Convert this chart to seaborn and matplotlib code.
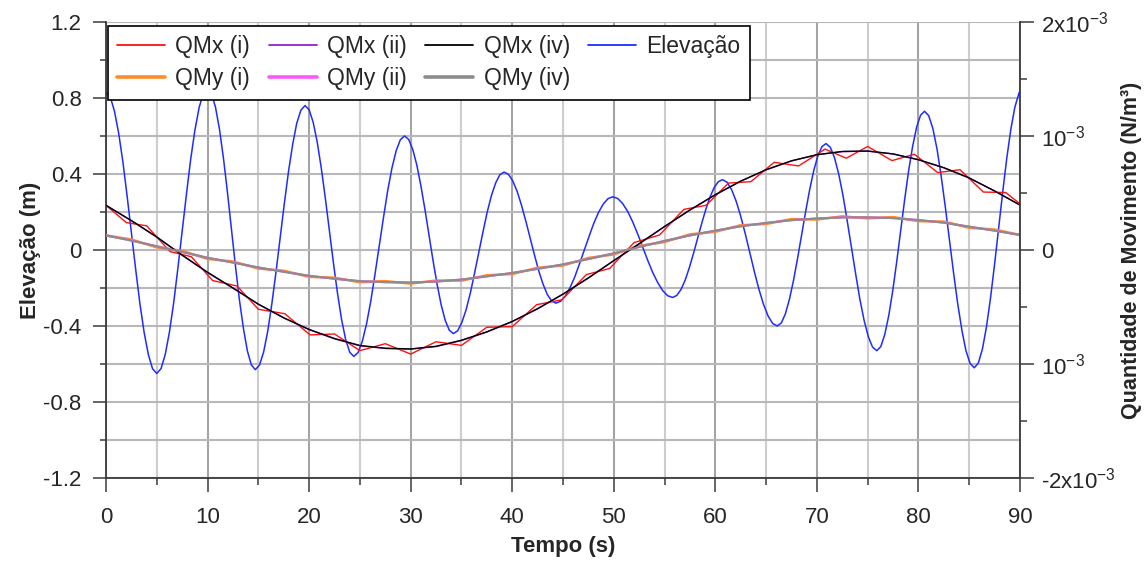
import matplotlib
matplotlib.use("Agg")
import matplotlib.pyplot as plt
import seaborn as sns
import pandas as pd
from matplotlib.ticker import MultipleLocator, FixedLocator, FixedFormatter
from matplotlib.lines import Line2D

# ---------------- data ----------------
# Elevação (m), left axis
t_elev = [0,
          0.42, 0.83, 1.25, 1.67, 2.08, 2.5, 2.92, 3.33, 3.75, 4.17, 4.58, 5.0,
          5.42, 5.83, 6.25, 6.67, 7.08, 7.5, 7.92, 8.33, 8.75, 9.17, 9.58, 10.0,
          10.39, 10.78, 11.18, 11.57, 11.96, 12.35, 12.74, 13.13, 13.53, 13.92, 14.31, 14.7,
          15.11, 15.52, 15.93, 16.33, 16.74, 17.15, 17.56, 17.97, 18.38, 18.78, 19.19, 19.6,
          20.0, 20.4, 20.8, 21.2, 21.6, 22.0, 22.4, 22.8, 23.2, 23.6, 24.0, 24.4,
          24.82, 25.23, 25.65, 26.07, 26.48, 26.9, 27.32, 27.73, 28.15, 28.57, 28.98, 29.4,
          29.8, 30.2, 30.6, 31.0, 31.4, 31.8, 32.2, 32.6, 33.0, 33.4, 33.8, 34.2,
          34.62, 35.03, 35.45, 35.87, 36.28, 36.7, 37.12, 37.53, 37.95, 38.37, 38.78, 39.2,
          39.63, 40.05, 40.48, 40.9, 41.33, 41.75, 42.18, 42.6, 43.03, 43.45, 43.88, 44.3,
          44.77, 45.23, 45.7, 46.17, 46.63, 47.1, 47.57, 48.03, 48.5, 48.97, 49.43, 49.9,
          50.39, 50.88, 51.38, 51.87, 52.36, 52.85, 53.34, 53.83, 54.33, 54.82, 55.31, 55.8,
          56.21, 56.62, 57.03, 57.43, 57.84, 58.25, 58.66, 59.07, 59.48, 59.88, 60.29, 60.7,
          61.15, 61.6, 62.05, 62.5, 62.95, 63.4, 63.85, 64.3, 64.75, 65.2, 65.65, 66.1,
          66.5, 66.9, 67.3, 67.7, 68.1, 68.5, 68.9, 69.3, 69.7, 70.1, 70.5, 70.9,
          71.32, 71.73, 72.15, 72.57, 72.98, 73.4, 73.82, 74.23, 74.65, 75.07, 75.48, 75.9,
          76.29, 76.68, 77.08, 77.47, 77.86, 78.25, 78.64, 79.03, 79.43, 79.82, 80.21, 80.6,
          81.01, 81.42, 81.83, 82.23, 82.64, 83.05, 83.46, 83.87, 84.28, 84.68, 85.09, 85.5,
          85.9, 86.3, 86.7, 87.1, 87.5, 87.9, 88.3, 88.7, 89.1, 89.5, 89.9, 90.0]
elevacao = [0.83,
            0.805, 0.731, 0.613, 0.460, 0.282, 0.09, -0.102, -0.28, -0.433, -0.551, -0.625, -0.65,
            -0.624, -0.550, -0.430, -0.275, -0.094, 0.10, 0.294, 0.475, 0.630, 0.750, 0.824, 0.85,
            0.825, 0.751, 0.633, 0.480, 0.302, 0.11, -0.082, -0.26, -0.413, -0.531, -0.605, -0.63,
            -0.606, -0.537, -0.426, -0.283, -0.115, 0.065, 0.245, 0.413, 0.556, 0.667, 0.736, 0.76,
            0.738, 0.672, 0.567, 0.430, 0.271, 0.10, -0.071, -0.23, -0.367, -0.472, -0.538, -0.56,
            -0.540, -0.482, -0.390, -0.270, -0.130, 0.02, 0.170, 0.31, 0.430, 0.522, 0.580, 0.60,
            0.582, 0.530, 0.448, 0.340, 0.215, 0.08, -0.055, -0.18, -0.288, -0.370, -0.422, -0.44,
            -0.426, -0.383, -0.316, -0.228, -0.125, -0.015, 0.095, 0.198, 0.286, 0.353, 0.396, 0.41,
            0.398, 0.364, 0.309, 0.238, 0.154, 0.065, -0.024, -0.108, -0.179, -0.234, -0.268, -0.28,
            -0.270, -0.242, -0.198, -0.140, -0.072, 0.0, 0.072, 0.14, 0.198, 0.242, 0.270, 0.28,
            0.271, 0.244, 0.202, 0.147, 0.084, 0.015, -0.054, -0.118, -0.172, -0.214, -0.241, -0.25,
            -0.239, -0.208, -0.159, -0.095, -0.020, 0.06, 0.140, 0.215, 0.279, 0.328, 0.359, 0.37,
            0.357, 0.318, 0.257, 0.178, 0.085, -0.015, -0.115, -0.208, -0.287, -0.348, -0.387, -0.40,
            -0.384, -0.336, -0.259, -0.160, -0.044, 0.08, 0.204, 0.32, 0.419, 0.496, 0.544, 0.56,
            0.541, 0.487, 0.400, 0.288, 0.156, 0.015, -0.126, -0.258, -0.370, -0.457, -0.511, -0.53,
            -0.509, -0.446, -0.345, -0.215, -0.063, 0.10, 0.263, 0.415, 0.545, 0.646, 0.709, 0.73,
            0.707, 0.640, 0.532, 0.393, 0.230, 0.055, -0.120, -0.283, -0.422, -0.530, -0.597, -0.62,
            -0.595, -0.522, -0.405, -0.253, -0.075, 0.115, 0.305, 0.483, 0.635, 0.752, 0.825, 0.836]

# Quantidade de Movimento, right axis, values in units of 1e-3 N/m3
t_qm = [0, 2.5, 5, 7.5, 10, 12.5, 15, 17.5, 20, 22.5, 25, 27.5, 30, 32.5, 35,
        37.5, 40, 42.5, 45, 47.5, 50, 52.5, 55, 57.5, 60, 62.5, 65, 67.5, 70,
        72.5, 75, 77.5, 80, 82.5, 85, 87.5, 90]
qmx_iv = [0.392, 0.258, 0.114, -0.045, -0.196, -0.333, -0.475, -0.595, -0.697,
          -0.777, -0.838, -0.862, -0.868, -0.845, -0.792, -0.718, -0.627, -0.515,
          -0.387, -0.245, -0.093, 0.055, 0.206, 0.351, 0.485, 0.604, 0.704,
          0.782, 0.836, 0.864, 0.868, 0.843, 0.792, 0.722, 0.632, 0.518, 0.395]
qmx_ii = [0.390, 0.256, 0.112, -0.047, -0.198, -0.335, -0.476, -0.596, -0.699,
          -0.779, -0.840, -0.864, -0.870, -0.847, -0.794, -0.720, -0.628, -0.516,
          -0.388, -0.246, -0.094, 0.054, 0.205, 0.350, 0.484, 0.603, 0.703,
          0.781, 0.835, 0.863, 0.867, 0.842, 0.791, 0.721, 0.631, 0.517, 0.393]
qmy_iv = [0.128, 0.082, 0.033, -0.018, -0.068, -0.111, -0.153, -0.192, -0.226,
          -0.253, -0.273, -0.283, -0.285, -0.278, -0.259, -0.232, -0.201, -0.166,
          -0.126, -0.080, -0.029, 0.026, 0.080, 0.127, 0.170, 0.207, 0.238,
          0.261, 0.277, 0.285, 0.287, 0.279, 0.263, 0.239, 0.205, 0.169, 0.132]
qmy_ii = [0.127, 0.083, 0.032, -0.017, -0.069, -0.110, -0.154, -0.191, -0.227,
          -0.252, -0.274, -0.282, -0.286, -0.277, -0.260, -0.231, -0.202, -0.165,
          -0.127, -0.079, -0.030, 0.027, 0.079, 0.128, 0.169, 0.208, 0.237,
          0.262, 0.276, 0.286, 0.286, 0.280, 0.262, 0.240, 0.204, 0.170, 0.131]
qmy_i = [0.128, 0.092, 0.023, -0.008, -0.078, -0.101, -0.163, -0.182, -0.236,
         -0.243, -0.283, -0.273, -0.295, -0.268, -0.269, -0.222, -0.211, -0.156,
         -0.136, -0.070, -0.039, 0.036, 0.070, 0.137, 0.160, 0.217, 0.228,
         0.271, 0.267, 0.295, 0.277, 0.289, 0.253, 0.249, 0.195, 0.179, 0.132]
t_qmx_i = [0, 2.0, 4.0, 6.3, 8.4, 10.5, 12.9, 15.0, 17.6, 20.1, 22.5, 25.0, 27.5,
           30.0, 32.5, 35.0, 37.5, 40.0, 42.4, 44.9, 47.3, 49.6, 52.0, 54.5, 56.9,
           59.1, 61.3, 63.5, 65.8, 68.2, 70.8, 72.9, 75.0, 77.4, 79.6, 81.9, 84.1,
           86.4, 88.6, 90.0]
qmx_i = [0.392, 0.240, 0.212, -0.014, -0.059, -0.268, -0.316, -0.520, -0.559,
         -0.745, -0.737, -0.883, -0.822, -0.913, -0.805, -0.837, -0.678, -0.672,
         -0.480, -0.437, -0.216, -0.162, 0.065, 0.131, 0.356, 0.392, 0.587, 0.599,
         0.769, 0.737, 0.885, 0.805, 0.908, 0.784, 0.840, 0.679, 0.704, 0.508,
         0.504, 0.405]

x_ticks = [0, 10, 20, 30, 40, 50, 60, 70, 80, 90]
left_ticks = [-1.2, -0.8, -0.4, 0, 0.4, 0.8, 1.2]
left_tick_labels = ["-1.2", "-0.8", "-0.4", "0", "0.4", "0.8", "1.2"]
right_ticks = [-2e-3, -1e-3, 0, 1e-3, 2e-3]
right_tick_labels = [r"-2x10$^{-3}$", r"10$^{-3}$", "0", r"10$^{-3}$", r"2x10$^{-3}$"]

series = [  # label, t, values(1e-3), color, lw, legend lw
    ("QMx (i)", t_qmx_i, qmx_i, "#ff1010", 1.0, 1.3),
    ("QMy (i)", t_qm, qmy_i, "#ff8a2a", 1.8, 2.6),
    ("QMx (ii)", t_qm, qmx_ii, "#9a1fd0", 1.0, 1.3),
    ("QMy (ii)", t_qm, qmy_ii, "#ff55ff", 1.5, 2.6),
    ("QMx (iv)", t_qm, qmx_iv, "#000000", 1.0, 1.3),
    ("QMy (iv)", t_qm, qmy_iv, "#8c8c8c", 1.5, 2.6),
]
elev_color = "#1f2bff"

# ---------------- style ----------------
sns.set_style("white")
plt.rcParams["font.family"] = ["Liberation Sans", "DejaVu Sans"]
plt.rcParams["axes.unicode_minus"] = False
plt.rcParams["mathtext.fontset"] = "custom"
plt.rcParams["mathtext.rm"] = "Liberation Sans"
plt.rcParams["mathtext.it"] = "Liberation Sans:italic"
plt.rcParams["mathtext.bf"] = "Liberation Sans:bold"

TICK_FS = 16
LEG_FS = 16.5
LAB_FS = 16
fig = plt.figure(figsize=(11.45, 5.62), dpi=100)
ax = fig.add_axes([0.0926, 0.1495, 0.7982, 0.8114])
ax2 = ax.twinx()

df_e = pd.DataFrame({"t": t_elev, "v": elevacao})
sns.lineplot(data=df_e, x="t", y="v", ax=ax, color=elev_color, lw=1.1,
             estimator=None, sort=False, legend=False)

for lab, tt, vv, col, lw, _ in series:
    d = pd.DataFrame({"t": tt, "v": [v * 1e-3 for v in vv]})
    sns.lineplot(data=d, x="t", y="v", ax=ax2, color=col, lw=lw,
                 estimator=None, sort=False, legend=False)

ax.set_xlim(0, 90)
ax.set_ylim(-1.2, 1.2)
ax2.set_ylim(-2e-3, 2e-3)

ax.xaxis.set_major_locator(FixedLocator(x_ticks))
ax.xaxis.set_minor_locator(MultipleLocator(5))
ax.yaxis.set_major_locator(FixedLocator(left_ticks))
ax.yaxis.set_major_formatter(FixedFormatter(left_tick_labels))
ax.yaxis.set_minor_locator(MultipleLocator(0.2))
ax2.yaxis.set_major_locator(FixedLocator(right_ticks))
ax2.yaxis.set_major_formatter(FixedFormatter(right_tick_labels))
ax2.yaxis.set_minor_locator(MultipleLocator(0.5e-3))

spine_col = "#3a3a3a"
for a in (ax, ax2):
    for s in a.spines.values():
        s.set_color(spine_col)
        s.set_linewidth(1.3)
    a.spines["top"].set_visible(False)
ax.spines["right"].set_visible(False)
ax2.spines["left"].set_visible(False)
ax2.spines["bottom"].set_visible(False)

ax.tick_params(axis="x", which="major", direction="out", length=10, width=1.1,
               color=spine_col, labelsize=TICK_FS, pad=11)
ax.tick_params(axis="x", which="minor", direction="out", length=5, width=1.1,
               color=spine_col)
ax.tick_params(axis="y", which="major", direction="out", length=9.5, width=1.1,
               color=spine_col, labelsize=TICK_FS, pad=8)
ax.tick_params(axis="y", which="minor", direction="out", length=4.5, width=1.1,
               color=spine_col)
ax.tick_params(axis="y", which="both", left=True, right=False)
ax.tick_params(axis="x", which="both", bottom=True, top=False)
ax2.tick_params(axis="y", which="major", direction="out", length=10, width=1.1,
                color=spine_col, labelsize=TICK_FS, pad=5)
ax2.tick_params(axis="y", which="minor", direction="out", length=5, width=1.1,
                color=spine_col)

ax.grid(True, which="major", axis="x", color="#a4a4a4", lw=1.5)
ax.grid(True, which="minor", axis="x", color="#cdcdcd", lw=1.5)
ax.grid(True, which="both", axis="y", color="#b8b8b8", lw=1.5)
ax.set_axisbelow(True)

ax.set_xlabel("Tempo (s)", fontsize=LAB_FS, fontweight="bold", labelpad=6)
ax.set_ylabel("Elevação (m)", fontsize=LAB_FS, fontweight="bold", labelpad=2)
ax2.set_ylabel("Quantidade de Movimento (N/m³)", fontsize=15.5, fontweight="bold",
               labelpad=4)

handles = [Line2D([], [], color=c, lw=llw) for _, _, _, c, _, llw in series]
labels = [s[0] for s in series]
handles.append(Line2D([], [], color=elev_color, lw=1.3))
labels.append("Elevação")
leg = ax2.legend(handles, labels, ncol=4, loc="upper left",
                 bbox_to_anchor=(0.002, 0.991), frameon=True, fancybox=False,
                 edgecolor="black", framealpha=1, fontsize=LEG_FS,
                 handlelength=2.1, handletextpad=0.45, columnspacing=0.8,
                 labelspacing=0.4, borderpad=0.4, borderaxespad=0)
leg.get_frame().set_linewidth(1.2)

fig.savefig("out.png", dpi=100)
